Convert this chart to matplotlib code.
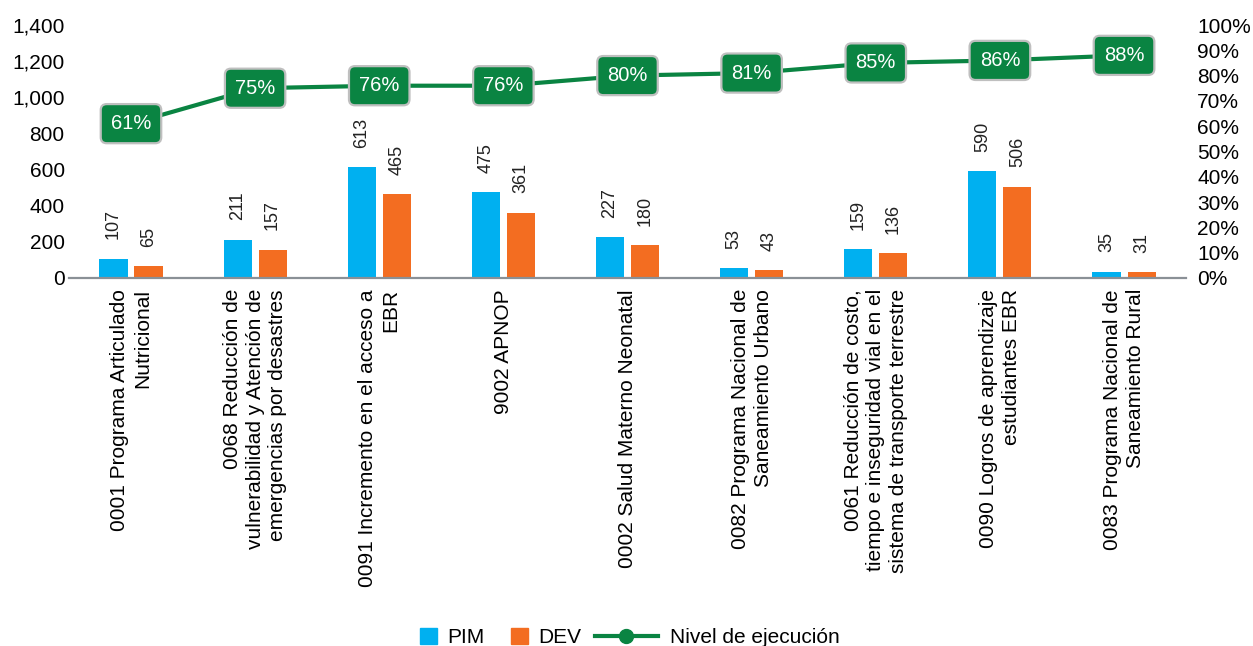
import matplotlib
matplotlib.use("Agg")
import matplotlib.pyplot as plt
from matplotlib.ticker import FuncFormatter
from matplotlib.lines import Line2D
from matplotlib.patches import Patch
import numpy as np

plt.rcParams['font.family'] = ['Liberation Sans', 'DejaVu Sans']

categorias = [
    "0001 Programa Articulado\nNutricional",
    "0068 Reducción de\nvulnerabilidad y Atención de\nemergencias por desastres",
    "0091 Incremento en el acceso a\nEBR",
    "9002 APNOP",
    "0002 Salud Materno Neonatal",
    "0082 Programa Nacional de\nSaneamiento Urbano",
    "0061 Reducción de costo,\ntiempo e inseguridad vial en el\nsistema de transporte terrestre",
    "0090 Logros de aprendizaje\nestudiantes EBR",
    "0083 Programa Nacional de\nSaneamiento Rural",
]
pim = [107, 211, 613, 475, 227, 53, 159, 590, 35]
dev = [65, 157, 465, 361, 180, 43, 136, 506, 31]
ejecucion = [0.61, 0.75, 0.76, 0.76, 0.80, 0.81, 0.85, 0.86, 0.88]

c_pim = '#00B0F0'
c_dev = '#F36D21'
c_verde = '#0A8442'

fig = plt.figure(figsize=(12.53, 6.46), dpi=100)
ax = fig.add_axes([0.055, 0.5697, 0.8916, 0.3916])
x = np.arange(len(categorias))
w = 0.226
off = 0.141

b1 = ax.bar(x - off, pim, w, color=c_pim)
b2 = ax.bar(x + off, dev, w, color=c_dev)
for bars in (b1, b2):
    for b in bars:
        ax.annotate(f"{int(b.get_height())}", (b.get_x() + b.get_width() / 2, b.get_height()),
                    xytext=(0, 14), textcoords='offset points', rotation=90,
                    ha='center', va='bottom', fontsize=13, color='#222222')

ax.set_xlim(-0.5, len(categorias) - 0.5)
ax.set_ylim(0, 1400)
ax.set_yticks(range(0, 1401, 200))
ax.yaxis.set_major_formatter(FuncFormatter(lambda v, p: f"{int(v):,}"))
ax.set_xticks(x)
ax.set_xticklabels(categorias, rotation=90, ha='center', va='top',
                   multialignment='right', fontsize=15, linespacing=1.25)
ax.tick_params(axis='x', length=0, pad=8)
ax.tick_params(axis='y', length=0, pad=3, labelsize=15)
for s in ['top', 'right', 'left']:
    ax.spines[s].set_visible(False)
ax.spines['bottom'].set_color('#8A9096')
ax.spines['bottom'].set_linewidth(1.6)

ax2 = ax.twinx()
ax2.plot(x, ejecucion, color=c_verde, lw=3, marker='o', ms=7)
ax2.set_ylim(0, 1)
ax2.set_yticks(np.arange(0, 1.01, 0.1))
ax2.yaxis.set_major_formatter(FuncFormatter(lambda v, p: f"{v*100:.0f}%"))
ax2.tick_params(axis='y', length=0, pad=8, labelsize=15)
for s in ['top', 'right', 'left', 'bottom']:
    ax2.spines[s].set_visible(False)
for xi, v in zip(x, ejecucion):
    ax2.text(xi, v, f"{v*100:.0f}%", ha='center', va='center', fontsize=14.5, color='white',
             bbox=dict(boxstyle='round,pad=0.5,rounding_size=0.3', fc=c_verde,
                       ec='#BFBFBF', lw=1.6))

# leyenda en dos partes para que los cuadrados y la linea tengan distinto largo
h1 = [Patch(color=c_pim, label='PIM'), Patch(color=c_dev, label='DEV')]
h2 = [Line2D([0], [0], color=c_verde, lw=3, marker='o', ms=10, label='Nivel de ejecución')]
leg1 = fig.legend(handles=h1, loc='center right', bbox_to_anchor=(0.4637, 0.013), ncol=2,
                  frameon=False, fontsize=15, handlelength=0.82, handleheight=0.82,
                  columnspacing=1.25, handletextpad=0.5, borderpad=0, borderaxespad=0)
leg2 = fig.legend(handles=h2, loc='center left', bbox_to_anchor=(0.4749, 0.013),
                  frameon=False, fontsize=15, handlelength=3.0, handletextpad=0.58,
                  borderpad=0, borderaxespad=0)

fig.savefig('out.png', dpi=100)
